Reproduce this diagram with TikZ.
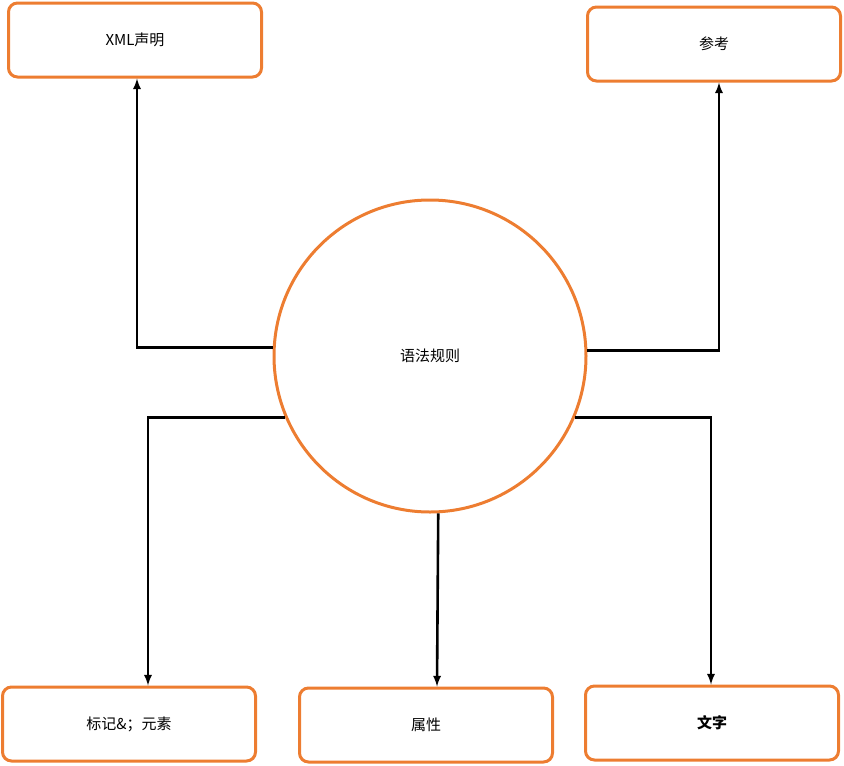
\documentclass[tikz,border=0pt]{standalone}
\usepackage{fontspec}
\setmainfont{Noto Sans CJK SC}
\usetikzlibrary{positioning}
\definecolor{boxorange}{HTML}{ED7D31}
\tikzset{
  rulebox/.style={draw=boxorange, line width=3pt, rounded corners=9pt,
    minimum width=253pt, minimum height=74pt, font=\fontsize{15}{18}\selectfont},
  link/.style={draw=black, line width=2.6pt, -latex}
}
\begin{document}
\begin{tikzpicture}[x=1pt,y=-1pt]
        \useasboundingbox (0,0) rectangle (844,766);
        \node [draw=boxorange, line width=3pt, circle, minimum size=312pt,
          font=\fontsize{15}{18}\selectfont] (rules) at (430,356) {语法规则};

        \node [rulebox] (xmldecl) at (135,40) {XML声明};
        \node [rulebox] (ref) at (714,44) {参考};
        \node [rulebox] (tag) at (129,724) {标记\&；元素};
        \node [rulebox] (attr) at (426,725) {属性};
        \node [rulebox, font=\fontsize{15}{18}\selectfont\bfseries] (text) at (712,723) {文字};

        \draw [link] (rules.177.5) -| (xmldecl.south -| 137,0); % Up left.
        \draw [link] (rules.2) -| (ref.south -| 719,0); % Up right.
        \draw [link] (rules.203.8) -| (tag.north -| 148,0); % Down left.
        \draw [link] (rules.-87.4) -- (attr.north -| 437,0); % Down.
        \draw [link] (rules.-23.9) -| (text.north -| 711,0); % Down right.
      \end{tikzpicture}
\end{document}
